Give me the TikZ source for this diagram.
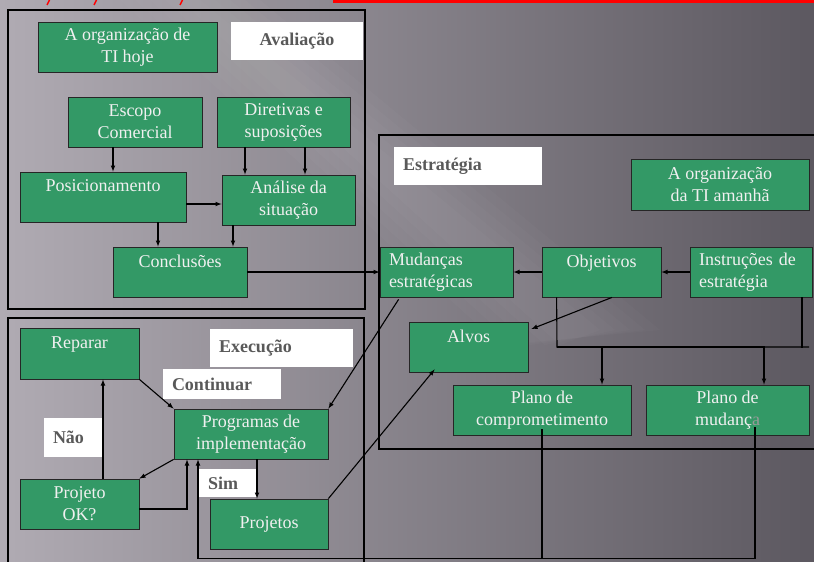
\documentclass[tikz,border=0pt]{standalone}
\usepackage{fontspec}
\setmainfont{Liberation Serif}
\usepackage{tikz}
\definecolor{boxgreen}{RGB}{51,153,102}
\definecolor{labgrey}{RGB}{89,89,89}
\definecolor{bgleft}{RGB}{176,171,179}
\definecolor{bgmid}{RGB}{119,115,123}
\definecolor{bgright}{RGB}{92,88,96}
\tikzset{every node/.style={align=center}, >= latex, font=\fontsize{18}{22}\selectfont}

\begin{document}
\begin{tikzpicture}[x=1pt, y=-1pt,
    box/.style={draw=black!85, line width=0.8pt, fill=boxgreen, text=white!94!black, minimum height=50pt, inner sep=2pt},
    lab/.style={fill=white, text=labgrey, font=\fontsize{18}{22}\selectfont\bfseries, inner xsep=9pt, align=left},
    frame/.style={line width=2pt, black},
    conn/.style={line width=1.1pt, black}]
    \useasboundingbox (0,0) rectangle (814,562);
    \clip (0,0) rectangle (814,562);
    \shade[left color=bgleft, middle color=bgmid, right color=bgright] (0,0) rectangle (814,562);
    % soft light streak
    \foreach \w in {0,15,30,45,60}
        \fill[white, opacity=0.018] (180-\w,0) -- (200+\w,0) -- (600+\w,330) -- (560-\w,345) -- cycle;
    \fill[red] (333,0) rectangle (814,3);
    \draw[red, line width=1.5pt] (47,5) -- (49.5,0) (94,5) -- (96.5,0) (180,5) -- (182.5,0);

    % frames
    \draw[frame] (8,10) rectangle (365,309);
    \draw[frame] (8,318) rectangle (364,580);
    \draw[frame] (379,135) rectangle (830,449);

    % avaliacao
    \node[box, minimum width=179pt] (hoje) at (127.5,47) {A organização de\\TI hoje};
    \node[lab, text width=114pt, align=center, minimum height=38pt] (aval) at (297,41) {Avaliação};
    \node[box, minimum width=134pt] (escopo) at (135,122) {Escopo\\Comercial};
    \node[box, minimum width=133pt] (diret) at (283.5,122) {Diretivas e\\suposições};
    \node[box, minimum width=166pt] (posic) at (103,197) {Posicionamento\\~};
    \node[box, minimum width=133pt] (analise) at (288.5,200) {Análise da\\situação};
    \node[box, minimum width=134pt] (concl) at (180,272) {Conclusões\\~};

    % estrategia
    \node[lab, text width=130pt, minimum height=38pt] (estrat) at (468,166) {Estratégia};
    \node[box, minimum width=178pt, minimum height=51pt] (amanha) at (720,184.5) {A organização\\da TI amanhã};
    \node[box, text width=115pt, inner xsep=9pt, align=left] (mudancas) at (446.5,272) {Mudanças\\estratégicas};
    \node[box, minimum width=119pt] (objet) at (601.5,272) {Objetivos\\~};
    \node[box, text width=104pt, inner xsep=9pt, align=left] (instr) at (751,272) {Instruções de\\estratégia};
    \node[box, minimum width=119pt] (alvos) at (468.5,347) {Alvos\\~};
    \node[box, minimum width=178pt] (compr) at (542,410) {Plano de\\comprometimento};
    \node[box, minimum width=163pt] (plmud) at (727.5,410) {Plano de\\mudanç{\color{gray!80}a}};

    % execucao
    \node[box, minimum width=119pt, minimum height=51pt] (reparar) at (79.5,353.5) {Reparar\\~};
    \node[lab, text width=125pt, minimum height=38pt] (exec) at (281.5,348) {Execução};
    \node[lab, text width=100pt, minimum height=30pt] (contin) at (222,384) {Continuar};
    \node[box, minimum width=154pt] (progr) at (251,434) {Programas de\\implementação};
    \node[lab, text width=41pt, minimum height=39pt] (nao) at (73.5,437.5) {Não};
    \node[box, minimum width=119pt] (projok) at (79.5,504) {Projeto\\OK?};
    \node[lab, text width=40pt, minimum height=28pt] (sim) at (228,483) {Sim};
    \node[box, minimum width=118pt] (projetos) at (269,524) {Projetos};

    \path[->, conn] ([xshift=-22pt]escopo.south) edge ([xshift=10pt]posic.north)
        ([xshift=-38.5pt]diret.south) edge ([xshift=-43.5pt]analise.north)
        ([xshift=21.5pt]diret.south) edge ([xshift=16.5pt]analise.north)
        ([yshift=-7pt]posic.east) edge ([yshift=-4pt]analise.west)
        ([xshift=55pt]posic.south) edge ([xshift=-22pt]concl.north)
        ([xshift=-55.5pt]analise.south) edge ([xshift=53pt]concl.north)
        (concl) edge (mudancas);

    \path[->, conn] (objet) edge (mudancas)
        (instr) edge (objet)
        ([xshift=10.5pt]objet.south) edge ([xshift=3pt,yshift=18pt]alvos.east);

    \coordinate (bus) at (557,347);
    \coordinate (busend) at (809,347);
    \draw[conn] ([xshift=15pt]objet.south west) -- (bus) -- (busend);
    \draw[conn] ([xshift=51pt]instr.south) -- ++(0,51);
    \draw[->, conn] (bus) -| ([xshift=60pt]compr.north);
    \draw[->, conn] (bus) -| ([xshift=36.5pt]plmud.north);
    \draw[->, conn] ([xshift=27.5pt,yshift=8pt]plmud.south) -- ++(0,131) -| ([xshift=-53pt]progr.south);
    \draw[conn] ([yshift=6pt]compr.south) -- ++(0,129);

    \path[->, conn] (reparar.south east) edge (progr.north west)
        ([xshift=23.5pt]projok.north) edge ([xshift=23.5pt]reparar.south)
        (progr.south west) edge (projok.north east)
        ([xshift=6pt]progr.south) edge ([xshift=-12pt]projetos.north)
        (projetos.north east) edge ([xshift=26pt,yshift=3pt]alvos.south west)
        ([xshift=19pt,yshift=-2pt]mudancas.south west) edge (progr.north east);
    \draw[->, conn] ([yshift=-5pt]projok.east) -| ([xshift=-64pt]progr.south);
\end{tikzpicture}
\end{document}
